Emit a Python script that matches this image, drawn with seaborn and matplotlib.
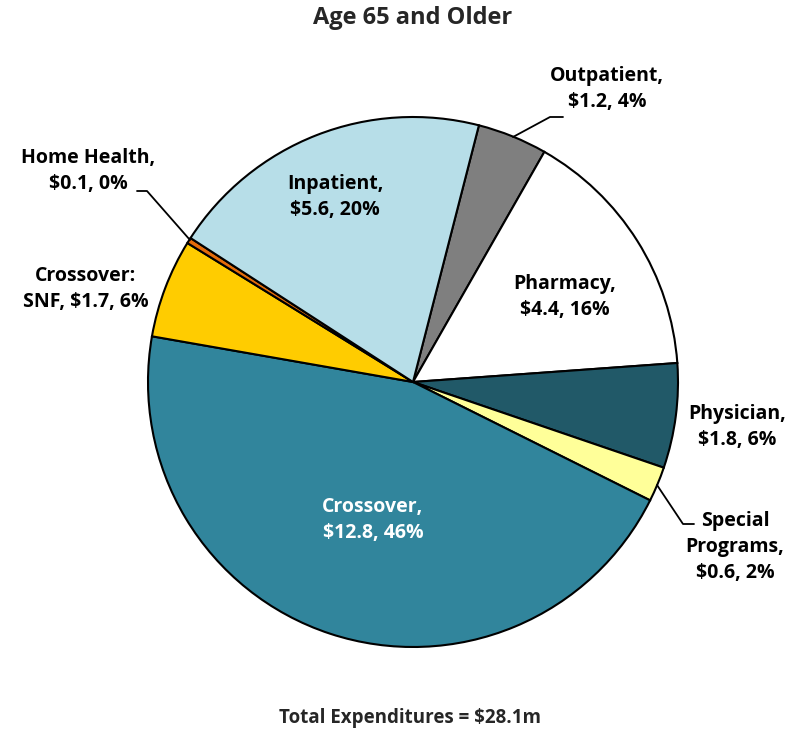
import matplotlib
matplotlib.use("Agg")
import matplotlib.pyplot as plt
import seaborn as sns

# slices, clockwise starting from Outpatient
categories = ["Outpatient", "Pharmacy", "Physician", "Special Programs",
              "Crossover", "Crossover: SNF", "Home Health", "Inpatient"]
amounts = [1.2, 4.4, 1.8, 0.6, 12.8, 1.7, 0.1, 5.6]
percents = [4, 16, 6, 2, 46, 6, 0, 20]
label_text = ["Outpatient,\n$1.2, 4%", "Pharmacy,\n$4.4, 16%", "Physician,\n$1.8, 6%",
              "Special\nPrograms,\n$0.6, 2%", "Crossover,\n$12.8, 46%",
              "Crossover:\nSNF, $1.7, 6%", "Home Health,\n$0.1, 0%", "Inpatient,\n$5.6, 20%"]
colors = ["#7F7F7F", "#FFFFFF", "#215968", "#FFFF99",
          "#31859C", "#FFCC00", "#E46C0A", "#B7DEE8"]
total_label = "Total Expenditures = $28.1m"

sns.set_style("white")
plt.rcParams['font.family'] = ['Open Sans', 'DejaVu Sans']

fig = plt.figure(figsize=(8.03, 7.32), dpi=100)
ax = fig.add_axes([0, 0, 1, 1])
H = 732

ax.pie(amounts, colors=colors, startangle=75.6, counterclock=False,
       center=(413, H - 382), radius=265,
       wedgeprops=dict(edgecolor="black", linewidth=1.5), frame=False)
ax.set_xlim(0, 803)
ax.set_ylim(0, H)
ax.set_aspect("equal")
ax.axis("off")

# label positions (image pixels)
pos = [(607, 89), (565, 297), (737, 427), (735, 547),
       (373, 520), (86, 289), (88, 171), (335, 197)]
for txt, (x, y), c in zip(label_text, pos, colors):
    tc = "white" if c == "#31859C" else "black"
    ax.text(x, H - y, txt, ha="center", va="center", fontsize=14,
            fontweight="bold", color=tc, linespacing=1.4)

# leader lines
leaders = [[(513, 137), (550, 117), (563, 117)],
           [(190, 240), (147, 191), (137, 191)],
           [(657, 485), (683, 524), (694, 524)]]
for pts in leaders:
    ax.plot([p[0] for p in pts], [H - p[1] for p in pts], color="black", lw=1.3)

ax.text(413, H - 18, "Age 65 and Older", ha="center", va="center",
        fontsize=17, fontweight="bold")
ax.text(410, H - 718, total_label, ha="center", va="center",
        fontsize=13.5, fontweight="bold")

fig.savefig("out.png", dpi=100)
